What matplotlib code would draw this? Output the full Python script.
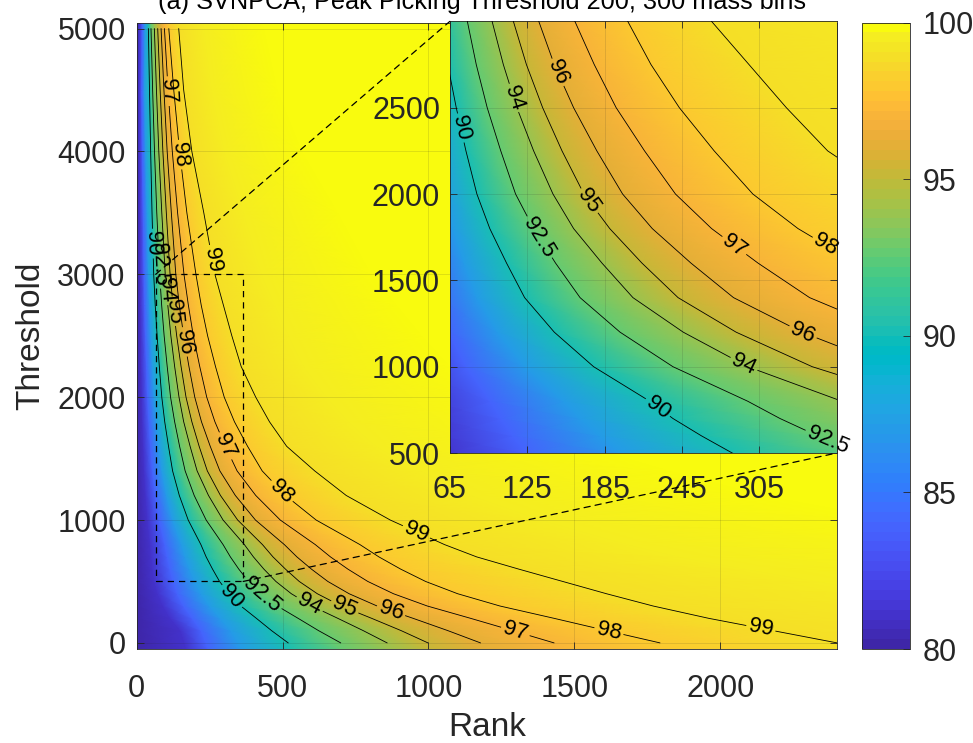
import numpy as np
import matplotlib
matplotlib.use("Agg")
import matplotlib.pyplot as plt
from matplotlib.colors import ListedColormap
from matplotlib.patches import Rectangle, ConnectionPatch

plt.rcParams['font.family'] = ['Liberation Sans', 'DejaVu Sans']

# MATLAB parula, 64 entries
PARULA = [
    [0.2422, 0.1504, 0.6603], [0.2504, 0.1650, 0.7076], [0.2578, 0.1818, 0.7511], [0.2647, 0.1978, 0.7952],
    [0.2706, 0.2147, 0.8364], [0.2751, 0.2342, 0.8710], [0.2783, 0.2559, 0.8991], [0.2803, 0.2782, 0.9221],
    [0.2813, 0.3006, 0.9414], [0.2810, 0.3228, 0.9579], [0.2795, 0.3447, 0.9717], [0.2760, 0.3667, 0.9829],
    [0.2699, 0.3892, 0.9906], [0.2602, 0.4123, 0.9952], [0.2440, 0.4358, 0.9988], [0.2206, 0.4603, 0.9973],
    [0.1963, 0.4847, 0.9892], [0.1834, 0.5074, 0.9798], [0.1786, 0.5289, 0.9682], [0.1764, 0.5499, 0.9520],
    [0.1687, 0.5703, 0.9359], [0.1540, 0.5902, 0.9218], [0.1460, 0.6091, 0.9079], [0.1380, 0.6276, 0.8973],
    [0.1248, 0.6459, 0.8883], [0.1113, 0.6635, 0.8763], [0.0952, 0.6798, 0.8598], [0.0689, 0.6948, 0.8394],
    [0.0297, 0.7082, 0.8163], [0.0036, 0.7199, 0.7905], [0.0067, 0.7299, 0.7632], [0.0433, 0.7388, 0.7346],
    [0.0964, 0.7466, 0.7055], [0.1408, 0.7543, 0.6758], [0.1717, 0.7619, 0.6461], [0.1938, 0.7700, 0.6160],
    [0.2161, 0.7785, 0.5843], [0.2470, 0.7858, 0.5506], [0.2906, 0.7909, 0.5142], [0.3406, 0.7939, 0.4789],
    [0.3909, 0.7944, 0.4451], [0.4456, 0.7909, 0.4127], [0.5044, 0.7841, 0.3766], [0.5561, 0.7781, 0.3449],
    [0.5985, 0.7701, 0.3130], [0.6479, 0.7604, 0.2822], [0.6913, 0.7486, 0.2551], [0.7311, 0.7365, 0.2351],
    [0.7748, 0.7220, 0.2201], [0.8167, 0.7076, 0.2110], [0.8577, 0.6950, 0.2107], [0.8924, 0.6869, 0.2163],
    [0.9242, 0.6830, 0.2244], [0.9512, 0.6907, 0.2301], [0.9738, 0.7058, 0.2244], [0.9932, 0.7285, 0.2141],
    [0.9962, 0.7573, 0.1998], [0.9894, 0.7866, 0.1876], [0.9785, 0.8136, 0.1803], [0.9676, 0.8414, 0.1692],
    [0.9613, 0.8726, 0.1544], [0.9588, 0.9002, 0.1414], [0.9622, 0.9309, 0.1284], [0.9763, 0.9831, 0.0538],
]
parula = ListedColormap(PARULA, name='parula')

# Peak-picking threshold rows
thresholds = [0, 100, 200, 300, 400, 500, 600, 700, 800, 1000, 1200, 1400, 1600,
              1800, 2000, 2250, 2500, 2750, 3000, 3500, 4000, 4500, 5000]

# Rank at which the accuracy (%) reaches each value, one entry per threshold row
rank_80 = [0] * len(thresholds)
rank_81 = [170, 150, 115, 90, 72, 60, 54, 50, 46, 37, 31, 26, 23,
           20, 18, 16, 14.6, 13.3, 12.2, 11, 9.5, 8.5, 9]
rank_84 = [245, 220, 190, 160, 138, 124, 113, 104, 96, 77, 64, 54, 47.5,
           42, 37.5, 34, 30, 27.6, 25.4, 22.5, 19.5, 17.5, 19]
rank_87 = [360, 322, 286, 249, 220, 198, 181, 166, 153, 123, 102, 86, 76,
           67, 60, 54, 48.6, 44.2, 40.6, 36, 31, 27, 29]
rank_90 = [519, 462, 410, 357, 316, 284, 260, 238, 220, 176.5, 146, 123, 109,
           96, 86, 77.5, 70, 63.4, 58.3, 52.5, 47.8, 43.8, 40]
rank_92_5 = [699, 623, 553, 482, 426, 383, 350, 321, 296, 238, 197, 166, 147,
             130, 116, 104.5, 94, 85.5, 78.6, 68.8, 61, 54.6, 49]
rank_94 = [858, 776, 689, 600, 530, 477, 436, 400, 369, 296, 246, 207, 183,
           161, 145, 130, 117, 106.5, 97.8, 86, 75.7, 67.7, 60.5]
rank_95 = [998, 906, 805, 701, 619, 557, 510, 467, 431, 346, 287, 242, 214,
           189, 169, 152, 137, 124.4, 114.3, 101.5, 89.7, 80.3, 72]
rank_96 = [1178, 1066, 947, 824, 728, 655, 599, 549, 506, 407, 338, 285, 252,
           222, 199, 179, 161, 146, 134, 118.7, 104.4, 93.3, 83.5]
rank_97 = [1430, 1288, 1144, 996, 880, 792, 724, 664, 612, 492, 408, 344, 304,
           268, 240, 216, 194, 177, 162, 140.2, 122, 107.6, 95]
rank_98 = [1793, 1610, 1430, 1245, 1100, 990, 905, 830, 765, 615, 510, 430, 380,
           335, 300, 270, 243, 221, 203, 172, 147, 127, 110]
rank_99 = [2400, 2180, 1960, 1770, 1610, 1460, 1310, 1165, 1055, 869, 718, 610, 514,
           455, 408, 358, 326, 297, 268, 230, 189, 161, 144]
rank_99_5 = [3840, 3488, 3136, 2832, 2576, 2336, 2096, 1864, 1688, 1390, 1149, 976, 822,
             728, 653, 573, 522, 475, 429, 368, 302, 258, 230]
rank_100 = [7200, 6540, 5880, 5310, 4830, 4380, 3930, 3495, 3165, 2607, 2154, 1830, 1542,
            1365, 1224, 1074, 978, 891, 804, 690, 567, 483, 432]
rank_end = [10000] * len(thresholds)

accuracy_values = [79.5, 81, 84, 87, 90, 92.5, 94, 95, 96, 97, 98, 99, 99.5, 100, 100]
rank_columns = [rank_80, rank_81, rank_84, rank_87, rank_90, rank_92_5, rank_94, rank_95,
                rank_96, rank_97, rank_98, rank_99, rank_99_5, rank_100, rank_end]

# contour lines drawn with labels
contour_lines = {90: rank_90, 92.5: rank_92_5, 94: rank_94, 95: rank_95,
                 96: rank_96, 97: rank_97, 98: rank_98, 99: rank_99}
main_label_spots = {
    90: [(325, 377), (54, 3250)],
    92.5: [(433, 405), (77, 3080)],
    94: [(588, 296), (101, 2870)],
    95: [(709, 269), (127, 2700)],
    96: [(869, 242), (164, 2450)],
    97: [(1296, 79), (301, 1600), (101, 4490)],
    98: [(1617, 81), (491, 1220), (147, 3974)],
    99: [(2138, 106), (954, 880), (261, 3121)],
}
inset_label_spots = {
    90: [(72, 2380), (225, 750)],
    92.5: [(135, 1753), (358, 575)],
    94: [(114, 2555), (292, 1000)],
    95: [(174, 1966)],
    96: [(150, 2709), (338, 1184)],
    97: [(285, 1696)],
    98: [(354, 1676)],
}

X = np.column_stack([np.asarray(c, float) for c in rank_columns])
T = np.asarray(thresholds, float)
Y = np.repeat(T[:, None], X.shape[1], axis=1)
Z = np.tile(np.asarray(accuracy_values, float), (len(T), 1))

# image cells reach half a threshold step past the first and last rows
Y_img = Y.copy()
Y_img[0, :] -= 50
Y_img[-1, :] += 50

ink = (0.15, 0.15, 0.15)


def style_axes(a, xpad, ypad):
    a.tick_params(direction='in', length=5, width=0.6, labelsize=22, colors=ink,
                  top=True, right=True)
    a.tick_params(axis='x', pad=xpad)
    a.tick_params(axis='y', pad=ypad)
    a.grid(True, color=ink, alpha=0.15, linewidth=0.6)
    for s in a.spines.values():
        s.set_color(ink)
        s.set_linewidth(0.6)


def draw_labelled_line(a, ranks, level, spots, renderer, clip_text=True, gap=3.0):
    """Draw one iso-accuracy line with inline labels that break the line."""
    disp = a.transData.transform(np.column_stack([np.asarray(ranks, float), T]))
    seg = np.diff(disp, axis=0)
    seglen = np.hypot(seg[:, 0], seg[:, 1])
    cum = np.concatenate([[0.0], np.cumsum(seglen)])
    inv = a.transData.inverted()
    cuts = []
    for sx, sy in spots:
        p = a.transData.transform((sx, sy))
        best = (np.inf, 0, 0.0)
        for i in range(len(seg)):
            l2 = seg[i] @ seg[i]
            u = 0.0 if l2 == 0 else float(np.clip((p - disp[i]) @ seg[i] / l2, 0, 1))
            d = np.hypot(*(p - (disp[i] + u * seg[i])))
            if d < best[0]:
                best = (d, i, u)
        _, i, u = best
        s = cum[i] + u * seglen[i]
        txt = a.text(0, 0, f"{level:g}", fontsize=16, color='k', ha='center', va='center',
                     rotation_mode='anchor', zorder=4, clip_on=clip_text)
        w = txt.get_window_extent(renderer).width
        xe = np.interp([s - w / 2, s + w / 2], cum, disp[:, 0])
        ye = np.interp([s - w / 2, s + w / 2], cum, disp[:, 1])
        ang = np.degrees(np.arctan2(ye[1] - ye[0], xe[1] - xe[0]))
        if ang > 90:
            ang -= 180
        elif ang < -90:
            ang += 180
        c = (np.interp(s, cum, disp[:, 0]), np.interp(s, cum, disp[:, 1]))
        txt.set_position(inv.transform(c))
        txt.set_rotation(ang)
        cuts.append((s - w / 2 - gap, s + w / 2 + gap))
    cuts.sort()
    bounds = [0.0]
    for c0, c1 in cuts:
        bounds += [c0, c1]
    bounds.append(cum[-1])
    for k in range(0, len(bounds), 2):
        lo, hi = bounds[k], bounds[k + 1]
        if hi <= lo:
            continue
        inner = (cum > lo) & (cum < hi)
        px = np.concatenate([[np.interp(lo, cum, disp[:, 0])], disp[inner, 0], [np.interp(hi, cum, disp[:, 0])]])
        py = np.concatenate([[np.interp(lo, cum, disp[:, 1])], disp[inner, 1], [np.interp(hi, cum, disp[:, 1])]])
        d = inv.transform(np.column_stack([px, py]))
        a.plot(d[:, 0], d[:, 1], color='k', lw=0.6, zorder=3)


fig = plt.figure(figsize=(9.73, 7.43), dpi=100)
renderer = fig.canvas.get_renderer()

ax = fig.add_axes([0.1405, 0.1265, 0.7197, 0.8432])
mesh = ax.pcolormesh(X, Y_img, Z, cmap=parula, vmin=80, vmax=100, shading='gouraud')
ax.set_xlim(0, 2400)
ax.set_ylim(-50, 5050)
ax.set_xticks([0, 500, 1000, 1500, 2000])
ax.set_yticks([0, 1000, 2000, 3000, 4000, 5000])
style_axes(ax, 18, 8)
ax.set_xlabel('Rank', fontsize=24, color=ink, labelpad=6)
ax.set_ylabel('Threshold', fontsize=24, color=ink, labelpad=8)
for lv, rk in contour_lines.items():
    draw_labelled_line(ax, rk, lv, main_label_spots.get(lv, []), renderer)
ax.add_patch(Rectangle((65, 500), 300, 2500, fill=False, ec='k', lw=0.9, ls=(0, (5, 4)), zorder=5))

axins = fig.add_axes([0.4623, 0.3903, 0.3976, 0.5809])
axins.pcolormesh(X, Y_img, Z, cmap=parula, vmin=80, vmax=100, shading='gouraud')
axins.set_xlim(65, 365)
axins.set_ylim(500, 3000)
axins.set_xticks([65, 125, 185, 245, 305])
axins.set_yticks([500, 1000, 1500, 2000, 2500])
style_axes(axins, 16, 7)
for lv, rk in contour_lines.items():
    draw_labelled_line(axins, rk, lv, inset_label_spots.get(lv, []), renderer, clip_text=False)

for corner in [(65, 3000), (365, 500)]:
    fig.add_artist(ConnectionPatch(xyA=corner, coordsA=ax.transData, xyB=corner,
                                   coordsB=axins.transData, color='k', lw=0.9,
                                   ls=(0, (5, 4)), zorder=6))

cax = fig.add_axes([0.8859, 0.1265, 0.0493, 0.8432])
cb = fig.colorbar(mesh, cax=cax, ticks=[80, 85, 90, 95, 100])
cb.ax.tick_params(direction='in', length=5, width=0.6, labelsize=22, colors=ink, pad=9)
cb.outline.set_edgecolor(ink)
cb.outline.set_linewidth(0.6)

fig.text(0.4955, 1 - 9 / 743, '(a) SVNPCA, Peak Picking Threshold 200, 300 mass bins',
         ha='center', va='baseline', fontsize=18.2, color='k')

fig.savefig('out.png', dpi=100)
